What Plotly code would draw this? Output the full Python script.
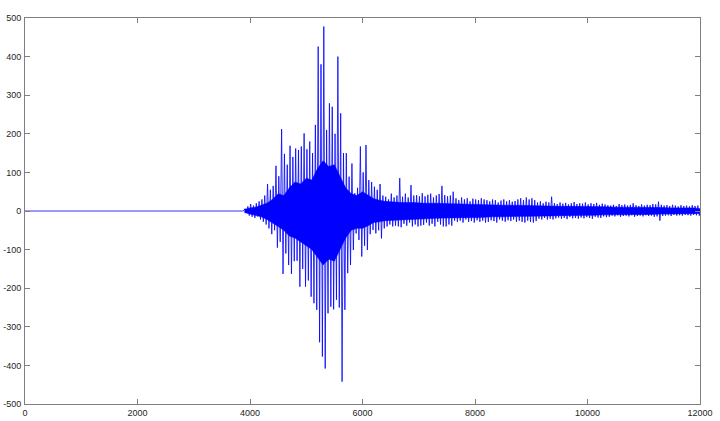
import plotly.graph_objects as go

# quiet pre-event segment (sample index, amplitude)
quiet_x = [0, 3880]
quiet_y = [0, 0]

# envelope: one upper and one lower excursion per 50-sample bin,
# starting at sample 3900
bin_start = 3900
bin_step = 50
hi = [6, 12, 18, 14, 20,
      25, 30, 40,
      70, 55, 65,
      117, 90,
      212, 148, 120, 169, 140, 162, 158, 167, 201, 160,
      180, 150, 223, 426, 380, 478, 210, 279, 270, 200,
      400, 253, 150, 150, 89, 123, 46, 60, 167, 100,
      171, 80, 75, 63, 55, 70, 40, 37, 30, 45,
      35, 40, 85, 37, 45, 35, 67, 40, 41, 38,
      46, 38, 42, 45, 35, 40, 44,
      65,
      41, 38, 40,
      50,
      33, 28, 35, 30, 33, 25, 32, 30, 28, 33, 30,
      28, 25, 30, 28, 22, 27, 30, 25, 28, 24, 26, 30,
      33, 28, 35, 30, 33, 28,
      22, 25, 20, 24, 22,
      37,
      20, 18, 22, 19, 21, 17, 20, 23, 18, 20, 19, 22, 17, 20, 18, 21, 16, 19, 17, 15,
      14, 16, 13, 18, 15, 17, 14, 16, 20, 15, 13, 17, 14, 16, 15, 18, 17, 24, 16, 14,
      15, 13, 16, 14, 12, 15, 13, 14, 12, 15, 13, 14]
lo = [-5, -12, -15, -18, -14,
      -22, -28, -35,
      -45, -60, -50,
      -95, -80,
      -163, -110, -140, -163, -130, -129, -196, -150, -196, -180,
      -222, -239, -256, -340, -377, -408, -265, -248, -255, -230,
      -250, -442, -256, -161, -140, -101, -58, -75, -118, -90,
      -101, -60, -49, -58, -50, -71, -45, -40, -35, -40,
      -38, -40, -42, -33, -38, -30, -40, -35, -40, -38,
      -36, -30, -38, -33, -40, -28, -35,
      -40,
      -40, -35, -38,
      -25,
      -28, -25, -30, -22, -28, -26, -30, -24, -28, -25, -30,
      -28, -24, -26, -30, -22, -25, -28, -24, -26, -22, -28, -25,
      -28, -30, -25, -28, -30, -26,
      -20, -22, -18, -22, -20,
      -22,
      -19, -17, -20, -18, -21, -16, -19, -18, -20, -17, -19, -16, -18, -20, -15, -17, -18, -14, -16, -15,
      -12, -14, -11, -15, -13, -12, -14, -11, -15, -13, -12, -14, -11, -13, -12, -15, -14, -25, -13, -12,
      -11, -13, -10, -12, -11, -12, -10, -11, -12, -10, -11, -12]

# dense (solid) core of the trace
core_x = [3900, 4000, 4100, 4200, 4300, 4400, 4500, 4600, 4700, 4800, 4900, 5000, 5100,
          5200, 5300, 5400, 5500, 5600, 5700, 5800, 5900, 6000, 6100, 6200, 6300, 6400,
          6500,
          6700, 6900, 7100, 7300, 7500, 7700, 7900, 8100, 8300, 8500, 8700, 8900, 9100,
          9300, 9500, 9700, 9900, 10100, 10300, 10500, 10700, 10900, 11100, 11300, 11500,
          11700, 11900, 12000]
core_hi = [4, 8, 10, 15, 20, 30, 45, 40, 60, 75, 70, 85, 80,
           110, 130, 115, 120, 90, 60, 45, 40, 50, 40, 32, 28, 25,
           24,
           22, 22, 20, 20, 19, 18, 18, 17, 16, 15, 15, 14, 14,
           13, 12, 12, 12, 11, 11, 10, 10, 9, 9, 9, 8,
           8, 8, 6]
core_lo = [-4, -8, -12, -15, -22, -30, -40, -50, -65, -70, -80, -90, -100,
           -120, -140, -125, -130, -100, -70, -50, -45, -45, -38, -30, -28, -25,
           -24,
           -22, -21, -20, -19, -18, -18, -17, -17, -15, -15, -14, -14, -13,
           -13, -12, -12, -11, -11, -10, -10, -9, -9, -9, -8, -8,
           -7, -7, -6]

x_ticks = [0, 2000, 4000, 6000, 8000, 10000, 12000]
y_ticks = [-500, -400, -300, -200, -100, 0, 100, 200, 300, 400, 500]

xs = list(quiet_x)
ys = list(quiet_y)
for k, (h, l) in enumerate(zip(hi, lo)):
    s = bin_start + k * bin_step
    xs += [s + 12, s + 37]
    ys += [h, l]
xs.append(12000)
ys.append(0)

fig = go.Figure()
fig.add_trace(go.Scatter(x=core_x + core_x[::-1], y=core_hi + core_lo[::-1],
                         mode="lines", fill="toself", fillcolor="#0000ff",
                         line=dict(color="#0000ff", width=0.5),
                         hoverinfo="skip", showlegend=False))
fig.add_trace(go.Scatter(x=xs, y=ys, mode="lines",
                         line=dict(color="#0000ff", width=0.8),
                         hoverinfo="skip", showlegend=False))

axis_common = dict(showgrid=False, zeroline=False, showline=True, mirror="ticks",
                   linecolor="#7f7f7f", linewidth=1, ticks="inside", ticklen=5,
                   tickcolor="#7f7f7f", automargin=False,
                   tickfont=dict(family="Liberation Sans, Arial", size=9, color="#262626"))

fig.update_layout(
    template="none",
    width=720, height=421,
    margin=dict(l=25, r=20, t=18, b=17),
    paper_bgcolor="white", plot_bgcolor="white",
    xaxis=dict(range=[0, 12000], tickvals=x_ticks, ticktext=[str(v) for v in x_ticks],
               ticklabelstandoff=0, **axis_common),
    yaxis=dict(range=[-500, 500], tickvals=y_ticks, ticktext=[str(v) for v in y_ticks],
               ticklabelstandoff=1, **axis_common),
)

fig.write_html("out.html", config={"displayModeBar": False, "staticPlot": True})

# remove the browser's default page margin so the figure sits at the window's corner
with open("out.html", "r", encoding="utf-8") as f:
    html = f.read()
html = html.replace("<head>", "<head><style>html,body{margin:0;padding:0;overflow:hidden;}</style>", 1)
with open("out.html", "w", encoding="utf-8") as f:
    f.write(html)
